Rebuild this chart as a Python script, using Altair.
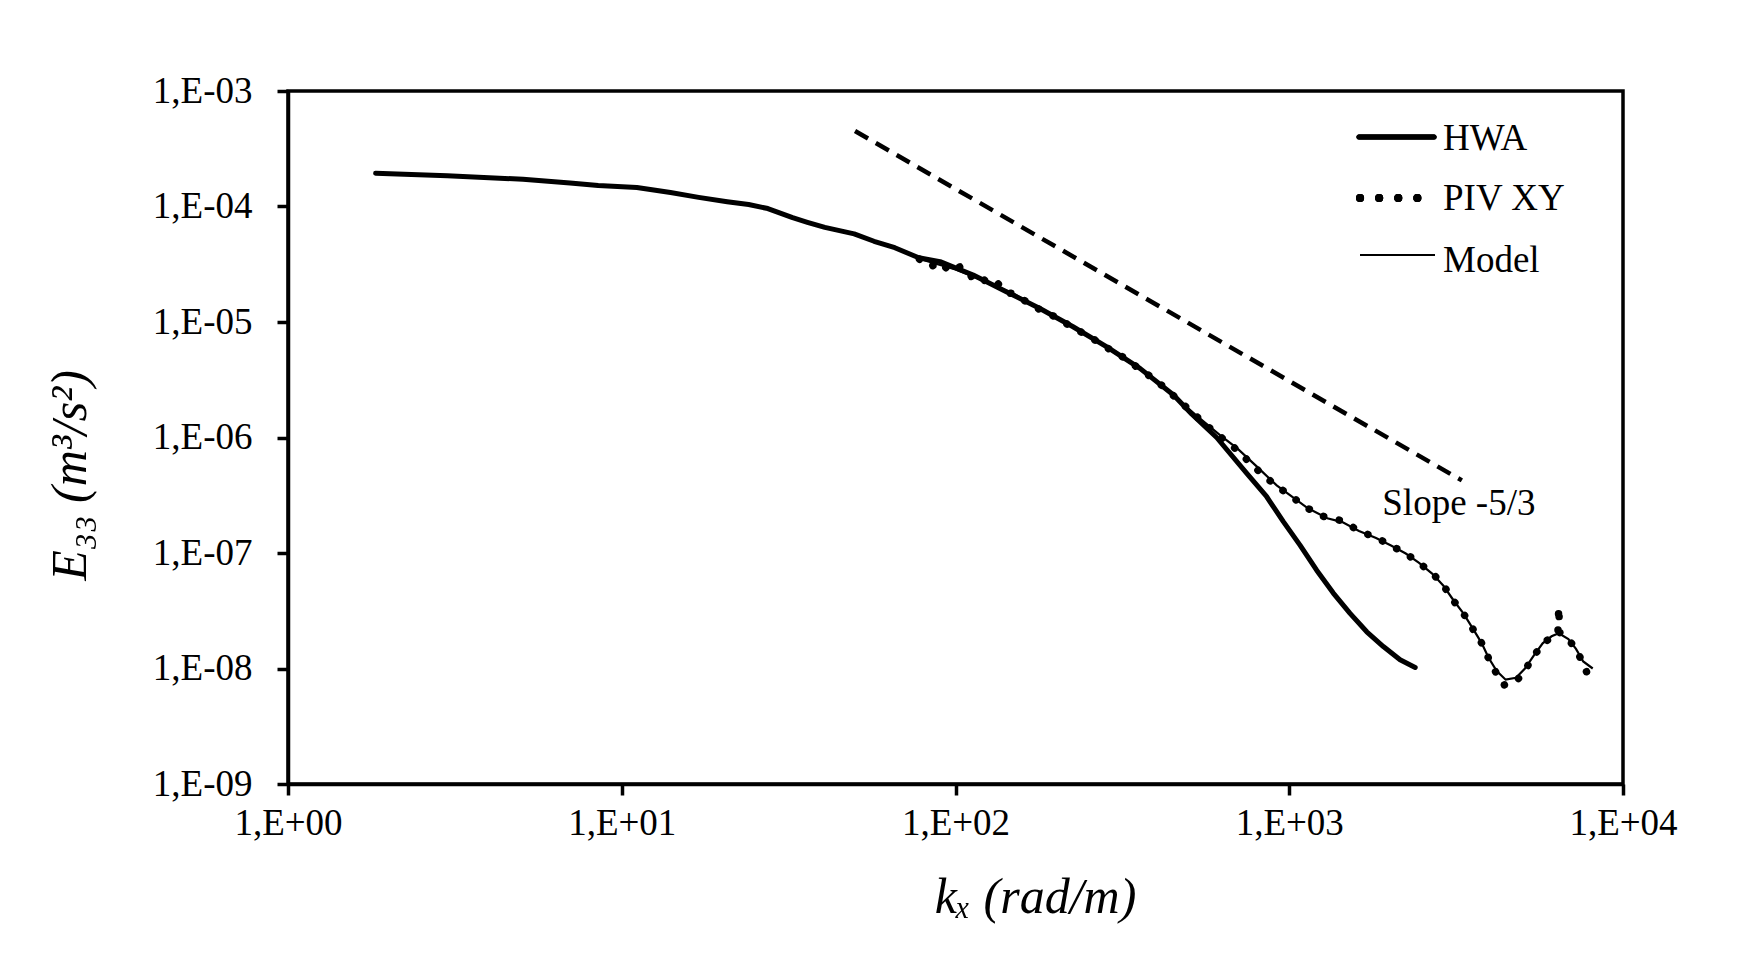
import altair as alt
import pandas as pd

# ---------------- data ----------------
hwa_k = [1.83, 3.0, 5.06, 7.0, 8.5, 11.1, 14.0, 17.0, 20.7, 24.0, 27.4, 32.5, 36.0, 40.6,
         49.7, 57.0, 65.8, 77.6, 89.9, 113, 142, 179, 225, 284, 357, 450, 510, 606, 746,
         856, 960, 1077, 1208, 1355, 1521, 1707, 1914, 2148, 2384]
hwa_e = [1.94e-4, 1.85e-4, 1.72e-4, 1.60e-4, 1.52e-4, 1.46e-4, 1.32e-4, 1.20e-4, 1.10e-4,
         1.04e-4, 9.6e-5, 8.0e-5, 7.3e-5, 6.6e-5, 5.8e-5, 5.0e-5, 4.4e-5, 3.6e-5, 3.33e-5,
         2.55e-5, 1.83e-5, 1.31e-5, 9.1e-6, 6.1e-6, 3.97e-6, 2.33e-6, 1.6e-6, 1.0e-6, 4.9e-7,
         3.07e-7, 1.87e-7, 1.17e-7, 7.1e-8, 4.5e-8, 3.0e-8, 2.08e-8, 1.55e-8, 1.19e-8, 1.02e-8]

piv_k = [78, 84, 90, 96, 103, 110, 117, 125, 133, 142, 150, 160, 179, 200, 225, 250, 284,
         320, 357, 400, 450, 500, 560, 620, 680, 754, 827, 917, 1024, 1135, 1273, 1442, 1618,
         1820, 2018, 2234, 2449, 2685, 2897, 3105, 3325, 3539, 3775, 3948, 4185, 4400, 4780,
         5085, 5408, 5745, 6110, 6380, 6420, 6460, 6860, 7230, 7600, 7925]
piv_e = [3.5e-5, 3.0e-5, 3.3e-5, 2.75e-5, 3.0e-5, 2.45e-5, 2.6e-5, 2.15e-5, 2.2e-5, 1.8e-5,
         1.75e-5, 1.55e-5, 1.28e-5, 1.1e-5, 8.9e-6, 7.6e-6, 6.0e-6, 4.9e-6, 3.9e-6, 3.1e-6,
         2.3e-6, 1.75e-6, 1.3e-6, 1.02e-6, 8.3e-7, 6.27e-7, 4.83e-7, 3.8e-7, 3.03e-7, 2.44e-7,
         2.06e-7, 1.9e-7, 1.55e-7, 1.36e-7, 1.16e-7, 9.9e-8, 8.2e-8, 6.67e-8, 5.25e-8, 3.86e-8,
         3.0e-8, 2.23e-8, 1.65e-8, 1.24e-8, 8.96e-9, 7.2e-9, 7.7e-9, 9.7e-9, 1.28e-8, 1.65e-8,
         1.86e-8, 2.0e-8, 3.4e-8, 2.05e-8, 1.79e-8, 1.47e-8, 1.1e-8, 8.2e-9]

model_k = [80, 100, 125, 150, 179, 225, 284, 357, 450, 520, 620, 700, 800, 917, 1024, 1135,
           1300, 1442, 1618, 1820, 2018, 2234, 2449, 2685, 2897, 3105, 3325, 3539, 3775, 3948,
           4185, 4450, 4780, 5085, 5408, 5745, 6110, 6420, 6860, 7230, 7600, 8115]
model_e = [3.45e-5, 2.85e-5, 2.2e-5, 1.75e-5, 1.3e-5, 9.0e-6, 6.0e-6, 3.9e-6, 2.3e-6, 1.6e-6,
           1.05e-6, 8.0e-7, 5.6e-7, 3.85e-7, 3.05e-7, 2.45e-7, 2.0e-7, 1.85e-7, 1.55e-7, 1.35e-7,
           1.16e-7, 9.9e-8, 8.2e-8, 6.6e-8, 5.2e-8, 3.9e-8, 3.0e-8, 2.25e-8, 1.65e-8, 1.25e-8,
           9.5e-9, 8.0e-9, 8.3e-9, 1.0e-8, 1.3e-8, 1.65e-8, 1.9e-8, 2.02e-8, 1.8e-8, 1.48e-8,
           1.15e-8, 1.0e-8]

slope_k = [50, 3290]
slope_e = [4.5e-4, 4.25e-7]
slope_label = ["Slope -5/3"]
slope_label_k = [1900]
slope_label_e = [2.13e-7]

x_tick_values = [1, 10, 100, 1000, 10000]
x_tick_labels = ["1,E+00", "1,E+01", "1,E+02", "1,E+03", "1,E+04"]
y_tick_values = [1e-9, 1e-8, 1e-7, 1e-6, 1e-5, 1e-4, 1e-3]
y_tick_labels = ["1,E-09", "1,E-08", "1,E-07", "1,E-06", "1,E-05", "1,E-04", "1,E-03"]

legend_labels = ["HWA", "PIV XY", "Model"]
x_title = "kₓ (rad/m)"
y_title = "E₃₃ (m³/s²)"

# ---------------- chart ----------------
FONT = "Liberation Serif"
W, H = 1335, 693

hwa_df = pd.DataFrame({"k": hwa_k, "E": hwa_e})
piv_df = pd.DataFrame({"k": piv_k, "E": piv_e})
model_df = pd.DataFrame({"k": model_k, "E": model_e})
slope_df = pd.DataFrame({"k": slope_k, "E": slope_e})
label_df = pd.DataFrame({"k": slope_label_k, "E": slope_label_e, "t": slope_label})

x_expr = "[" + ",".join("'%s'" % s for s in x_tick_labels) + "][round(log(datum.value)/LN10)]"
y_expr = "[" + ",".join("'%s'" % s for s in y_tick_labels) + "][round(log(datum.value)/LN10)+9]"

x_enc = alt.X("k:Q",
              scale=alt.Scale(type="log", domain=[1, 10000], nice=False),
              axis=alt.Axis(values=x_tick_values, labelExpr=x_expr, title=x_title,
                            labelPadding=10, labelFlush=False, titleX=747, titleY=128,
                            titleBaseline="alphabetic", titleAlign="center", grid=False))
y_enc = alt.Y("E:Q",
              scale=alt.Scale(type="log", domain=[1e-9, 1e-3], nice=False),
              axis=alt.Axis(values=y_tick_values, labelExpr=y_expr, title=y_title,
                            labelPadding=25, labelFlush=False, titleX=-203, titleY=384,
                            titleAngle=270, titleBaseline="alphabetic", titleAlign="center",
                            grid=False))

hwa = alt.Chart(hwa_df).mark_line(color="black", strokeWidth=5, strokeCap="round",
                                  strokeJoin="round").encode(x=x_enc, y=y_enc)
piv = alt.Chart(piv_df).mark_line(color="black", strokeWidth=7.5, strokeCap="round",
                                  strokeDash=[0.1, 16]).encode(x=x_enc, y=y_enc)
model = alt.Chart(model_df).mark_line(color="black", strokeWidth=2.2).encode(x=x_enc, y=y_enc)
slope = alt.Chart(slope_df).mark_line(color="black", strokeWidth=4.5,
                                      strokeDash=[15, 9]).encode(x=x_enc, y=y_enc)
slope_text = alt.Chart(label_df).mark_text(font=FONT, fontSize=37, align="left",
                                           baseline="alphabetic", color="black").encode(
    x=x_enc, y=y_enc, text="t:N")

# legend (drawn by hand, Excel style)
leg_df = pd.DataFrame({"label": legend_labels})
leg_hwa = alt.Chart(leg_df).mark_rule(color="black", strokeWidth=5, strokeCap="round").encode(
    x=alt.value(1071), x2=alt.value(1146), y=alt.value(46))
leg_piv = alt.Chart(leg_df).mark_rule(color="black", strokeWidth=8, strokeCap="round",
                                      strokeDash=[0.1, 19]).encode(
    x=alt.value(1072), x2=alt.value(1130), y=alt.value(107))
leg_model = alt.Chart(leg_df).mark_rule(color="black", strokeWidth=2.2).encode(
    x=alt.value(1072), x2=alt.value(1147), y=alt.value(164))


def leg_label(i, ypix):
    return alt.Chart(leg_df).transform_filter(
        alt.datum.label == legend_labels[i]).mark_text(
        font=FONT, fontSize=37, align="left", baseline="alphabetic", color="black").encode(
        x=alt.value(1155), y=alt.value(ypix), text="label:N")


chart = alt.layer(hwa, piv, model, slope, slope_text, leg_hwa, leg_piv, leg_model,
                  leg_label(0, 59), leg_label(1, 119), leg_label(2, 181)).properties(
    width=W, height=H,
    padding={"left": 280, "top": 83, "right": 100, "bottom": 160},
    autosize=alt.AutoSizeParams(type="none"),
    background="white",
).configure_view(stroke="black", strokeWidth=3.5).configure_axis(
    labelFont=FONT, labelFontSize=37, labelColor="black",
    titleFont=FONT, titleFontSize=50, titleFontStyle="italic", titleFontWeight="normal",
    titleColor="black", domainColor="black", domainWidth=3.5, tickColor="black",
    tickWidth=3.5, tickSize=11,
)

chart.save("out.html", embed_options={"renderer": "svg", "actions": False})
